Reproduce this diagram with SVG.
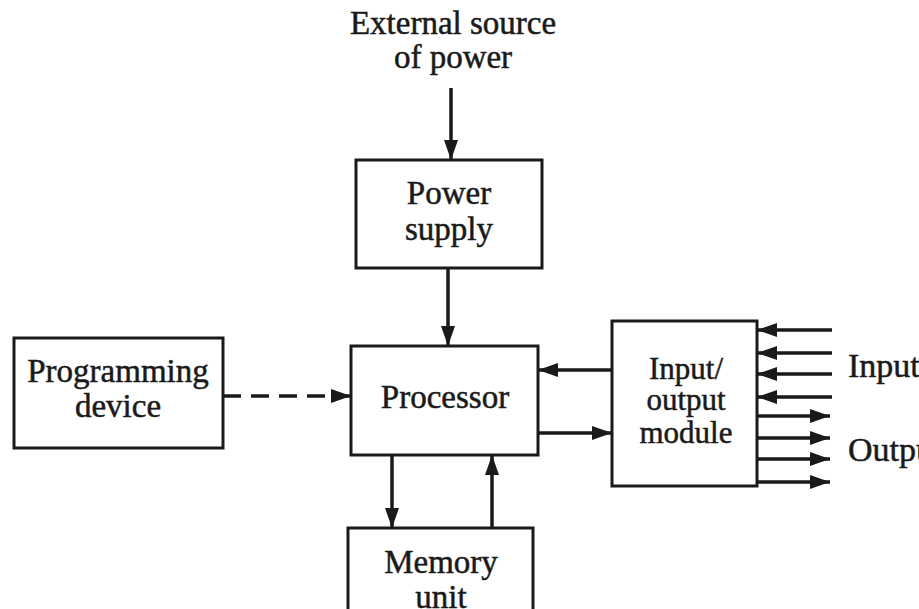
<svg xmlns="http://www.w3.org/2000/svg" width="919" height="609" viewBox="0 0 919 609">
<defs>
<style>
.box{fill:#fff;stroke:#1a1a1a;stroke-width:3}
.t{font-family:"Liberation Serif","Times New Roman",serif;font-size:33px;fill:#1a1a1a;stroke:#1a1a1a;stroke-width:0.5;text-anchor:middle}
.s{font-size:31px}
.tl{font-family:"Liberation Serif","Times New Roman",serif;font-size:34px;fill:#1a1a1a;stroke:#1a1a1a;stroke-width:0.5}
.c{stroke:#1a1a1a;stroke-width:3.5;fill:none;marker-end:url(#ah)}
.d{stroke-dasharray:18 10}
</style>
<marker id="ah" markerUnits="userSpaceOnUse" markerWidth="22" markerHeight="14" refX="20" refY="7" orient="auto">
<path d="M0,0 L20,7 L0,14 Z" fill="#1a1a1a"/>
</marker>
</defs>
<rect width="919" height="609" fill="#fff"/>
<text class="t" x="453" y="34">External source</text>
<text class="t" x="453" y="68">of power</text>
<g id="power">
<rect class="box" x="356" y="160" width="186" height="108"/>
<text class="t" x="449" y="204">Power</text>
<text class="t" x="449" y="240">supply</text>
</g>
<g id="programming">
<rect class="box" x="14" y="338" width="209" height="110"/>
<text class="t" x="118" y="382">Programming</text>
<text class="t" x="118" y="417">device</text>
</g>
<g id="processor">
<rect class="box" x="351" y="346" width="187" height="109"/>
<text class="t" x="445" y="408">Processor</text>
</g>
<g id="memory">
<rect class="box" x="348" y="528" width="185" height="100"/>
<text class="t" x="441" y="573">Memory</text>
<text class="t" x="441" y="608">unit</text>
</g>
<g id="io">
<rect class="box" x="612" y="321" width="145" height="165"/>
<text class="t s" x="686" y="379">Input/</text>
<text class="t s" x="686" y="410">output</text>
<text class="t s" x="686" y="443">module</text>
</g>
<g id="connectors">
<line class="c" x1="451" y1="88" x2="451" y2="160"/>
<line class="c" x1="448" y1="268" x2="448" y2="346"/>
<line class="c d" x1="223" y1="396" x2="351" y2="396"/>
<line class="c" x1="612" y1="370" x2="538" y2="370"/>
<line class="c" x1="538" y1="433" x2="612" y2="433"/>
<line class="c" x1="392" y1="455" x2="392" y2="528"/>
<line class="c" x1="492" y1="528" x2="492" y2="455"/>
<line class="c" x1="832" y1="330" x2="757" y2="330"/>
<line class="c" x1="832" y1="353" x2="757" y2="353"/>
<line class="c" x1="832" y1="374" x2="757" y2="374"/>
<line class="c" x1="832" y1="397" x2="757" y2="397"/>
<line class="c" x1="757" y1="416" x2="830" y2="416"/>
<line class="c" x1="757" y1="438" x2="830" y2="438"/>
<line class="c" x1="757" y1="459" x2="830" y2="459"/>
<line class="c" x1="757" y1="482" x2="830" y2="482"/>
</g>
<text class="tl" x="848" y="377">Input</text>
<text class="tl" x="848" y="461">Output</text>
</svg>
